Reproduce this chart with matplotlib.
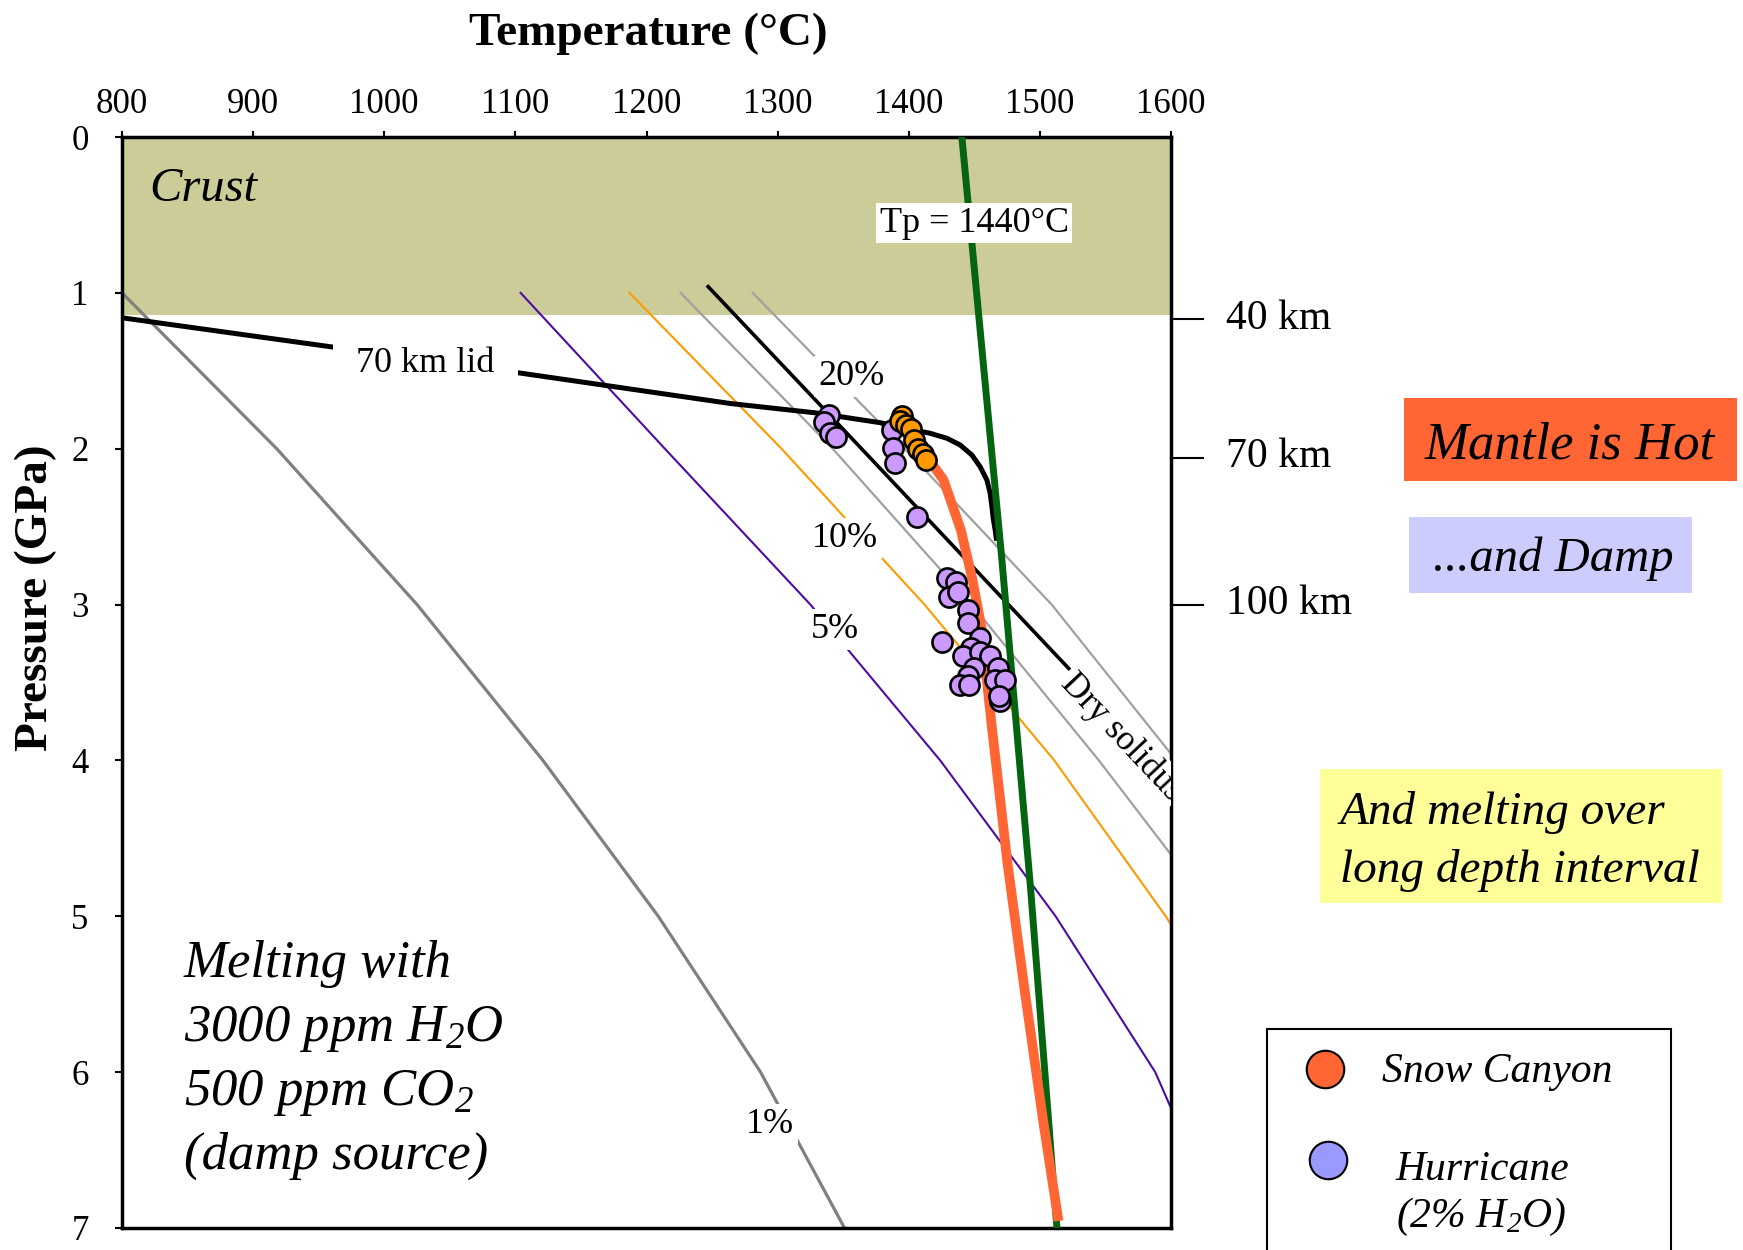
import matplotlib
matplotlib.use('Agg')
import matplotlib.pyplot as plt
from matplotlib.patches import Rectangle
from matplotlib.lines import Line2D
from matplotlib.transforms import offset_copy

plt.rcParams['font.family'] = ['Liberation Serif', 'DejaVu Serif']
plt.rcParams['mathtext.fontset'] = 'custom'
plt.rcParams['mathtext.rm'] = 'Liberation Serif:italic'
plt.rcParams['mathtext.it'] = 'Liberation Serif:italic'

# ---------------- data ----------------
temp_ticks = [800, 900, 1000, 1100, 1200, 1300, 1400, 1500, 1600]
pressure_ticks = [0, 1, 2, 3, 4, 5, 6, 7]
depth_pressure = [1.17, 2.06, 3.0]
depth_labels = ['40 km', '70 km', '100 km']
crust_base = 1.14

iso_pressure = [1, 2, 3, 4, 5, 6, 7]
melt_1 = [800, 918, 1025, 1121, 1209, 1287, 1351]
melt_5 = [1104, 1214, 1325, 1424, 1512, 1588, 1640]
melt_10 = [1187, 1303, 1412, 1511, 1596, 1670, 1740]
melt_15 = [1226, 1342, 1448, 1545, 1636]
melt_20 = [1281, 1397, 1509, 1604]

solidus_P = [0.96, 2.0, 3.0, 3.41]
solidus_T = [1247, 1364, 1476, 1522]

geotherm_T = [800, 1104, 1264, 1329, 1378.2, 1403.6, 1416.3, 1429.1, 1439.2, 1448.1,
              1454.4, 1459.6, 1462.1, 1463.4, 1464.6, 1465.9, 1467.0]
geotherm_P = [1.16, 1.515, 1.71, 1.77, 1.833, 1.880, 1.901, 1.933, 1.976, 2.040,
              2.115, 2.201, 2.286, 2.372, 2.457, 2.521, 2.59]

adiabat_T = [1440.5, 1471, 1493, 1513]
adiabat_P = [0.0, 2.71, 4.83, 7.0]

path_T = [1416.3, 1426.5, 1439.7, 1448.6, 1455.7, 1459.5, 1463.3, 1475.3, 1488.8, 1502.8, 1514.2]
path_P = [2.08, 2.20, 2.52, 2.84, 3.16, 3.48, 3.78, 4.66, 5.50, 6.33, 6.955]

hurricane_T = [1339.5, 1335, 1340, 1344.6, 1387, 1388, 1389.6, 1406.6, 1429, 1436.4,
               1430.8, 1437.3, 1445.5, 1445.5, 1425.7, 1454.5, 1447.4, 1441.7, 1454.5, 1462,
               1467.8, 1449.4, 1445.5, 1439.2, 1445.8, 1465.9, 1473.5, 1469.7, 1469]
hurricane_P = [1.784, 1.827, 1.901, 1.927, 1.880, 1.997, 2.090, 2.436, 2.831, 2.855,
               2.949, 2.922, 3.035, 3.120, 3.238, 3.216, 3.281, 3.329, 3.302, 3.333,
               3.404, 3.409, 3.458, 3.516, 3.516, 3.484, 3.484, 3.619, 3.587]

snow_T = [1394.5, 1393, 1398, 1401.8, 1403.7, 1406.8, 1410.6, 1413.3]
snow_P = [1.787, 1.819, 1.848, 1.873, 1.947, 1.999, 2.034, 2.072]

# ---------------- figure ----------------
W, H = 1743, 1250
fig = plt.figure(figsize=(W / 100, H / 100), dpi=100)
ax = fig.add_axes([122 / W, 1 - 1228 / H, 1049 / W, 1091 / H])
ax.set_xlim(800, 1600)
ax.set_ylim(7, 0)

ax.axhspan(0, crust_base, color='#cccc99', zorder=0, lw=0)

ax.plot(melt_1, iso_pressure, color='#808080', lw=2.3, zorder=2)
ax.plot(melt_5, iso_pressure, color='#4c0ba6', lw=1.5, zorder=2)
ax.plot(melt_10, iso_pressure, color='#ff9900', lw=1.5, zorder=2)
ax.plot(melt_15, iso_pressure[:len(melt_15)], color='#a0a0a0', lw=1.6, zorder=2)
ax.plot(melt_20, iso_pressure[:len(melt_20)], color='#a0a0a0', lw=1.6, zorder=2)
ax.plot(solidus_T, solidus_P, color='black', lw=2.6, zorder=3)
ax.plot(geotherm_T, geotherm_P, color='black', lw=3.6, zorder=3,
        solid_capstyle='butt', solid_joinstyle='round')
ax.plot(adiabat_T, adiabat_P, color='#05640f', lw=5, zorder=4)
ax.plot(path_T, path_P, color='#ff6633', lw=7, zorder=5,
        solid_capstyle='butt', solid_joinstyle='round')

ax.scatter(hurricane_T, hurricane_P, s=210, c='#cc99ff', edgecolors='black',
           linewidths=1.9, zorder=7)
ax.scatter(snow_T, snow_P, s=210, c='#ff9900', edgecolors='black',
           linewidths=1.9, zorder=8)

white = dict(boxstyle='square,pad=0.12', fc='white', ec='none')
for txt, t, p in [('20%', 1356, 1.51), ('10%', 1351, 2.55), ('5%', 1344, 3.135),
                  ('1%', 1294, 6.31)]:
    ax.text(t, p, txt, fontsize=26, ha='center', va='center_baseline',
            bbox=white, zorder=6)
ax.text(1031.5, 1.43, '70 km lid', fontsize=26, ha='center', va='center_baseline',
        bbox=dict(boxstyle='square,pad=0.65', fc='white', ec='none'), zorder=6)
ax.text(1450, 0.527, 'Tp = 1440°C', fontsize=26, ha='center', va='center_baseline',
        bbox=dict(boxstyle='square,pad=0.1', fc='white', ec='none'), zorder=6)
ax.text(821, 0.30, 'Crust', fontsize=35, style='italic', ha='left',
        va='center_baseline', zorder=6)
ax.text(1520, 3.475, 'Dry solidus', fontsize=25, rotation=-46.7, rotation_mode='anchor',
        ha='left', va='center', clip_on=True,
        bbox=dict(boxstyle='square,pad=0.08', fc='white', ec='none'), zorder=6)

# axes styling
ax.xaxis.tick_top()
ax.set_xticks(temp_ticks)
ax.set_yticks(pressure_ticks)
ax.tick_params(axis='x', direction='out', length=4.5, width=1.5, labelsize=25, pad=7,
               top=True, bottom=False, labeltop=True, labelbottom=False)
ax.tick_params(axis='y', direction='out', length=5, width=1.5, labelsize=25, pad=19)
for s in ax.spines.values():
    s.set_linewidth(2.5)

# depth scale on the right
ytr = ax.get_yaxis_transform()
lab_tr = offset_copy(ytr, fig=fig, y=4, units='points')
for p, lab in zip(depth_pressure, depth_labels):
    ax.plot([1.0, 1.0305], [p, p], transform=ytr, clip_on=False, color='black', lw=1.5)
    ax.text(1.0525, p, lab, transform=lab_tr, fontsize=30, ha='left',
            va='center_baseline', clip_on=False)

fig.text(648 / W, 1 - 34 / H, 'Temperature (°C)', fontsize=34, fontweight='bold',
         ha='center', va='center')
fig.text(36 / W, 1 - 598 / H, 'Pressure (GPa)', fontsize=34, fontweight='bold',
         ha='center', va='center', rotation=90)

# text block lower left
for line, y in [('Melting with', 958), ('3000 ppm H$_2$O', 1023),
                ('500 ppm CO$_2$', 1086), ('(damp source)', 1150.5)]:
    fig.text(183.5 / W, 1 - y / H, line, fontsize=38, style='italic',
             ha='left', va='center_baseline')


def fig_rect(x0, y0, x1, y1, **kw):
    r = Rectangle((x0 / W, 1 - y1 / H), (x1 - x0) / W, (y1 - y0) / H,
                  transform=fig.transFigure, clip_on=False, **kw)
    fig.add_artist(r)


fig_rect(1404, 398, 1737, 481, fc='#ff6633', ec='none')
fig.text(1570 / W, 1 - 440 / H, 'Mantle is Hot', fontsize=38, style='italic',
         ha='center', va='center_baseline')
fig_rect(1409, 517, 1692, 592.5, fc='#ccccff', ec='none')
fig.text(1553 / W, 1 - 554 / H, '...and Damp', fontsize=35, style='italic',
         ha='center', va='center_baseline')
fig_rect(1319.5, 769, 1722, 903, fc='#ffff99', ec='none')
fig.text(1339.5 / W, 1 - 808 / H, 'And melting over', fontsize=34, style='italic',
         ha='left', va='center_baseline')
fig.text(1339.5 / W, 1 - 865 / H, 'long depth interval', fontsize=34, style='italic',
         ha='left', va='center_baseline')

# legend box
fig_rect(1267, 1029, 1671, 1265, fc='white', ec='black', lw=1.5)
for (mx, my, col) in [(1325, 1069, '#ff6633'), (1328, 1160, '#9999ff')]:
    fig.add_artist(Line2D([mx / W], [1 - my / H], transform=fig.transFigure,
                          marker='o', markersize=27, markerfacecolor=col,
                          markeredgecolor='black', markeredgewidth=1.5, ls='none'))
fig.text(1382 / W, 1 - 1067 / H, 'Snow Canyon', fontsize=30, style='italic',
         ha='left', va='center_baseline')
fig.text(1482 / W, 1 - 1165 / H, 'Hurricane', fontsize=30, style='italic',
         ha='center', va='center_baseline')
fig.text(1481 / W, 1 - 1211 / H, '(2% H$_2$O)', fontsize=30, style='italic',
         ha='center', va='center_baseline')

fig.savefig('out.png', dpi=100)
